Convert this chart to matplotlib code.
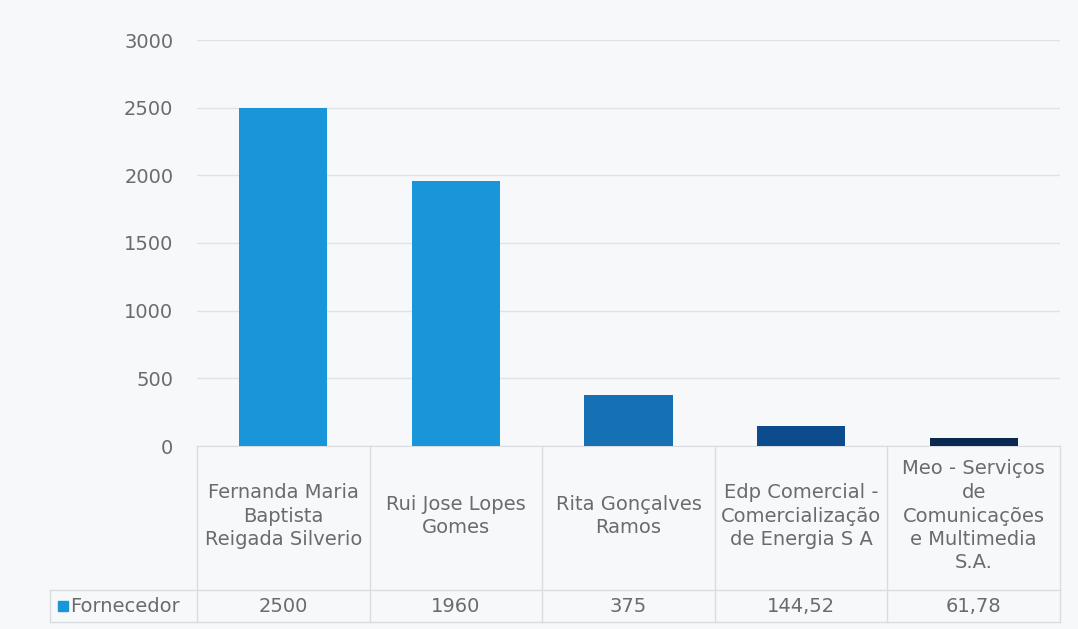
import matplotlib.pyplot as plt
import matplotlib.transforms as mtransforms

# data
categories = ["Fernanda Maria\nBaptista\nReigada Silverio",
              "Rui Jose Lopes\nGomes",
              "Rita Gonçalves\nRamos",
              "Edp Comercial -\nComercialização\nde Energia S A",
              "Meo - Serviços\nde\nComunicações\ne Multimedia\nS.A."]
values = [2500, 1960, 375, 144.52, 61.78]
value_labels = ["2500", "1960", "375", "144,52", "61,78"]
series_name = "Fornecedor"
yticks = [0, 500, 1000, 1500, 2000, 2500, 3000]

bar_colors = ['#1896d9', '#1896d9', '#1670b4', '#0c4b8c', '#0a2850']
text_color = '#6b6b6b'
line_color = '#d9dde2'
bg = '#f6f8fa'

fig = plt.figure(figsize=(10.78, 6.29), dpi=100)
fig.patch.set_facecolor(bg)
ax = fig.add_axes([197 / 1078, 1 - 446 / 629, (1060 - 197) / 1078, (446 - 40) / 629])
ax.set_facecolor(bg)

x = list(range(len(categories)))
ax.bar(x, values, width=0.51, color=bar_colors, zorder=3)

ax.set_xlim(-0.5, len(categories) - 0.5)
ax.set_ylim(0, 3000)
ax.set_yticks(yticks)
ax.set_yticklabels([str(t) for t in yticks])
ax.tick_params(axis='y', length=0, pad=17, labelsize=14, labelcolor=text_color)
ax.set_xticks([])
ax.grid(axis='y', color='#dfe3e8', linewidth=1, zorder=0)
for s in ['top', 'right', 'left']:
    ax.spines[s].set_visible(False)
ax.spines['bottom'].set_color(line_color)

# data table below the axis (x in data units, y in pixels from figure top)
px = lambda y: 1 - y / 629
trans = mtransforms.blended_transform_factory(ax.transData, fig.transFigure)
ftrans = fig.transFigure

for b in range(len(categories) + 1):
    ax.plot([b - 0.5, b - 0.5], [px(446), px(622)], color=line_color, lw=1,
            transform=trans, clip_on=False)
for yy in [590, 622]:
    ax.plot([50 / 1078, 1060 / 1078], [px(yy), px(yy)], color=line_color, lw=1,
            transform=ftrans, clip_on=False)
ax.plot([50 / 1078, 50 / 1078], [px(590), px(622)], color=line_color, lw=1,
        transform=ftrans, clip_on=False)

for i, (cat, lab) in enumerate(zip(categories, value_labels)):
    ax.text(i, px(516), cat, transform=trans, ha='center', va='center',
            fontsize=14, color=text_color, linespacing=1.3)
    ax.text(i, px(606), lab, transform=trans, ha='center', va='center',
            fontsize=14, color=text_color)

# legend key in the table
fig.patches.append(plt.Rectangle((58 / 1078, px(611)), 10 / 1078, 10 / 629,
                                 transform=ftrans, color='#1896d9'))
fig.text(70 / 1078, px(606), series_name, ha='left', va='center',
         fontsize=14, color=text_color)

fig.savefig('out.png', dpi=100, facecolor=bg)
